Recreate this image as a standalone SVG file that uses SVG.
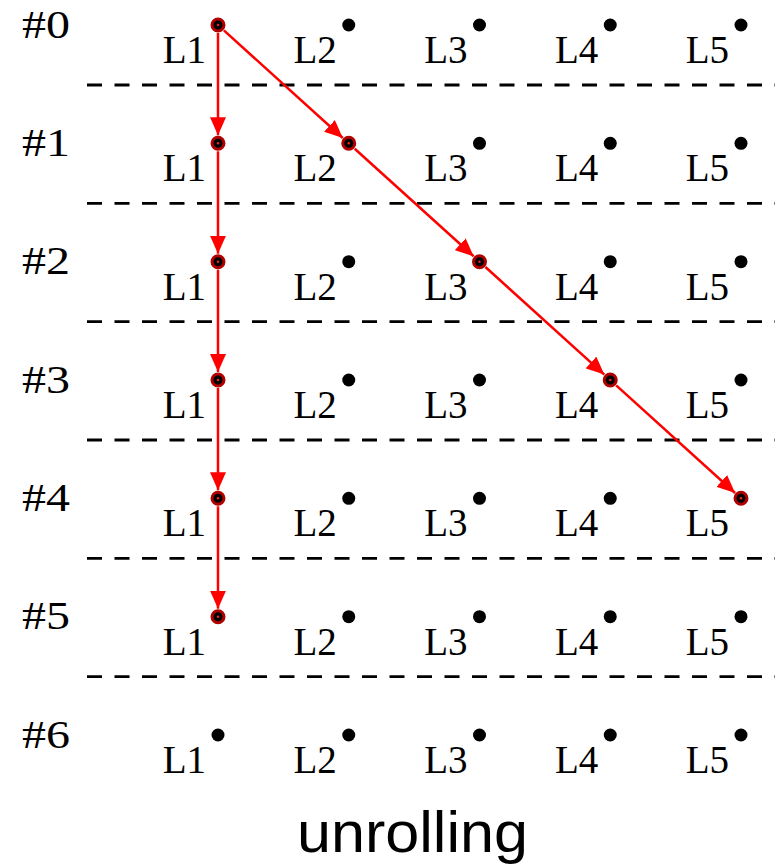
<svg xmlns="http://www.w3.org/2000/svg" width="775" height="866" viewBox="0 0 775 866">
<defs>
<style>
.lbl{font-family:"Liberation Serif","DejaVu Serif",serif;font-size:39px;fill:#000;text-anchor:end}
.row{font-family:"Liberation Serif","DejaVu Serif",serif;font-size:39px;fill:#000}
.dot{fill:#000}
.act{fill:#000;stroke:#b00000;stroke-width:3}
.ctr{fill:#ff2020}
.sep{stroke:#000;stroke-width:2.8;stroke-dasharray:15 12.5;fill:none}
.arr{stroke:#ff0000;stroke-width:2.5;fill:none;marker-end:url(#ah)}
.title{font-family:"Liberation Sans",Arial,sans-serif;font-size:57px;fill:#000;text-anchor:middle}
</style>
<marker id="ah" markerUnits="userSpaceOnUse" markerWidth="18" markerHeight="16" refX="18" refY="8" orient="auto" viewBox="0 0 18 16">
<path d="M0,0 L18,8 L0,16 z" fill="#ff0000"/>
</marker>
</defs>
<rect width="775" height="866" fill="#fff"/>
<g id="separators">
<line class="sep" x1="87" y1="85" x2="775" y2="85"/>
<line class="sep" x1="87" y1="203.3" x2="775" y2="203.3"/>
<line class="sep" x1="87" y1="321.7" x2="775" y2="321.7"/>
<line class="sep" x1="87" y1="440" x2="775" y2="440"/>
<line class="sep" x1="87" y1="558.3" x2="775" y2="558.3"/>
<line class="sep" x1="87" y1="676.7" x2="775" y2="676.7"/>
</g>
<g id="row-labels">
<text class="row" x="22" y="37.5" textLength="48" lengthAdjust="spacingAndGlyphs">#0</text>
<text class="row" x="22" y="155.8" textLength="48" lengthAdjust="spacingAndGlyphs">#1</text>
<text class="row" x="22" y="274.2" textLength="48" lengthAdjust="spacingAndGlyphs">#2</text>
<text class="row" x="22" y="392.5" textLength="48" lengthAdjust="spacingAndGlyphs">#3</text>
<text class="row" x="22" y="510.8" textLength="48" lengthAdjust="spacingAndGlyphs">#4</text>
<text class="row" x="22" y="629.2" textLength="48" lengthAdjust="spacingAndGlyphs">#5</text>
<text class="row" x="22" y="747.5" textLength="48" lengthAdjust="spacingAndGlyphs">#6</text>
</g>
<g id="connectors">
<line class="arr" x1="218" y1="33" x2="218" y2="135.3"/>
<line class="arr" x1="218" y1="151.3" x2="218" y2="253.7"/>
<line class="arr" x1="218" y1="269.7" x2="218" y2="372"/>
<line class="arr" x1="218" y1="388" x2="218" y2="490.3"/>
<line class="arr" x1="218" y1="506.3" x2="218" y2="608.7"/>
<line class="arr" x1="223.9" y1="30.4" x2="342.8" y2="138"/>
<line class="arr" x1="354.7" y1="148.7" x2="473.6" y2="256.3"/>
<line class="arr" x1="485.4" y1="267" x2="604.3" y2="374.6"/>
<line class="arr" x1="616.2" y1="385.4" x2="735.1" y2="493"/>
</g>
<!-- row 0 -->
<g id="n0-1"><circle class="act" cx="218" cy="25" r="6"/><circle class="ctr" cx="218" cy="25" r="1.2"/><text class="lbl" x="206" y="63">L1</text></g>
<g id="n0-2"><circle class="dot" cx="348.75" cy="25" r="6.5"/><text class="lbl" x="336.75" y="63">L2</text></g>
<g id="n0-3"><circle class="dot" cx="479.5" cy="25" r="6.5"/><text class="lbl" x="467.5" y="63">L3</text></g>
<g id="n0-4"><circle class="dot" cx="610.25" cy="25" r="6.5"/><text class="lbl" x="598.25" y="63">L4</text></g>
<g id="n0-5"><circle class="dot" cx="741" cy="25" r="6.5"/><text class="lbl" x="729" y="63">L5</text></g>
<!-- row 1 -->
<g id="n1-1"><circle class="act" cx="218" cy="143.3" r="6"/><circle class="ctr" cx="218" cy="143.3" r="1.2"/><text class="lbl" x="206" y="181.3">L1</text></g>
<g id="n1-2"><circle class="act" cx="348.75" cy="143.3" r="6"/><circle class="ctr" cx="348.75" cy="143.3" r="1.2"/><text class="lbl" x="336.75" y="181.3">L2</text></g>
<g id="n1-3"><circle class="dot" cx="479.5" cy="143.3" r="6.5"/><text class="lbl" x="467.5" y="181.3">L3</text></g>
<g id="n1-4"><circle class="dot" cx="610.25" cy="143.3" r="6.5"/><text class="lbl" x="598.25" y="181.3">L4</text></g>
<g id="n1-5"><circle class="dot" cx="741" cy="143.3" r="6.5"/><text class="lbl" x="729" y="181.3">L5</text></g>
<!-- row 2 -->
<g id="n2-1"><circle class="act" cx="218" cy="261.7" r="6"/><circle class="ctr" cx="218" cy="261.7" r="1.2"/><text class="lbl" x="206" y="299.7">L1</text></g>
<g id="n2-2"><circle class="dot" cx="348.75" cy="261.7" r="6.5"/><text class="lbl" x="336.75" y="299.7">L2</text></g>
<g id="n2-3"><circle class="act" cx="479.5" cy="261.7" r="6"/><circle class="ctr" cx="479.5" cy="261.7" r="1.2"/><text class="lbl" x="467.5" y="299.7">L3</text></g>
<g id="n2-4"><circle class="dot" cx="610.25" cy="261.7" r="6.5"/><text class="lbl" x="598.25" y="299.7">L4</text></g>
<g id="n2-5"><circle class="dot" cx="741" cy="261.7" r="6.5"/><text class="lbl" x="729" y="299.7">L5</text></g>
<!-- row 3 -->
<g id="n3-1"><circle class="act" cx="218" cy="380" r="6"/><circle class="ctr" cx="218" cy="380" r="1.2"/><text class="lbl" x="206" y="418">L1</text></g>
<g id="n3-2"><circle class="dot" cx="348.75" cy="380" r="6.5"/><text class="lbl" x="336.75" y="418">L2</text></g>
<g id="n3-3"><circle class="dot" cx="479.5" cy="380" r="6.5"/><text class="lbl" x="467.5" y="418">L3</text></g>
<g id="n3-4"><circle class="act" cx="610.25" cy="380" r="6"/><circle class="ctr" cx="610.25" cy="380" r="1.2"/><text class="lbl" x="598.25" y="418">L4</text></g>
<g id="n3-5"><circle class="dot" cx="741" cy="380" r="6.5"/><text class="lbl" x="729" y="418">L5</text></g>
<!-- row 4 -->
<g id="n4-1"><circle class="act" cx="218" cy="498.3" r="6"/><circle class="ctr" cx="218" cy="498.3" r="1.2"/><text class="lbl" x="206" y="536.3">L1</text></g>
<g id="n4-2"><circle class="dot" cx="348.75" cy="498.3" r="6.5"/><text class="lbl" x="336.75" y="536.3">L2</text></g>
<g id="n4-3"><circle class="dot" cx="479.5" cy="498.3" r="6.5"/><text class="lbl" x="467.5" y="536.3">L3</text></g>
<g id="n4-4"><circle class="dot" cx="610.25" cy="498.3" r="6.5"/><text class="lbl" x="598.25" y="536.3">L4</text></g>
<g id="n4-5"><circle class="act" cx="741" cy="498.3" r="6"/><circle class="ctr" cx="741" cy="498.3" r="1.2"/><text class="lbl" x="729" y="536.3">L5</text></g>
<!-- row 5 -->
<g id="n5-1"><circle class="act" cx="218" cy="616.7" r="6"/><circle class="ctr" cx="218" cy="616.7" r="1.2"/><text class="lbl" x="206" y="654.7">L1</text></g>
<g id="n5-2"><circle class="dot" cx="348.75" cy="616.7" r="6.5"/><text class="lbl" x="336.75" y="654.7">L2</text></g>
<g id="n5-3"><circle class="dot" cx="479.5" cy="616.7" r="6.5"/><text class="lbl" x="467.5" y="654.7">L3</text></g>
<g id="n5-4"><circle class="dot" cx="610.25" cy="616.7" r="6.5"/><text class="lbl" x="598.25" y="654.7">L4</text></g>
<g id="n5-5"><circle class="dot" cx="741" cy="616.7" r="6.5"/><text class="lbl" x="729" y="654.7">L5</text></g>
<!-- row 6 -->
<g id="n6-1"><circle class="dot" cx="218" cy="735" r="6.5"/><text class="lbl" x="206" y="773">L1</text></g>
<g id="n6-2"><circle class="dot" cx="348.75" cy="735" r="6.5"/><text class="lbl" x="336.75" y="773">L2</text></g>
<g id="n6-3"><circle class="dot" cx="479.5" cy="735" r="6.5"/><text class="lbl" x="467.5" y="773">L3</text></g>
<g id="n6-4"><circle class="dot" cx="610.25" cy="735" r="6.5"/><text class="lbl" x="598.25" y="773">L4</text></g>
<g id="n6-5"><circle class="dot" cx="741" cy="735" r="6.5"/><text class="lbl" x="729" y="773">L5</text></g>
<g id="title"><text class="title" x="412.5" y="852" textLength="231" lengthAdjust="spacingAndGlyphs">unrolling</text></g>
</svg>
